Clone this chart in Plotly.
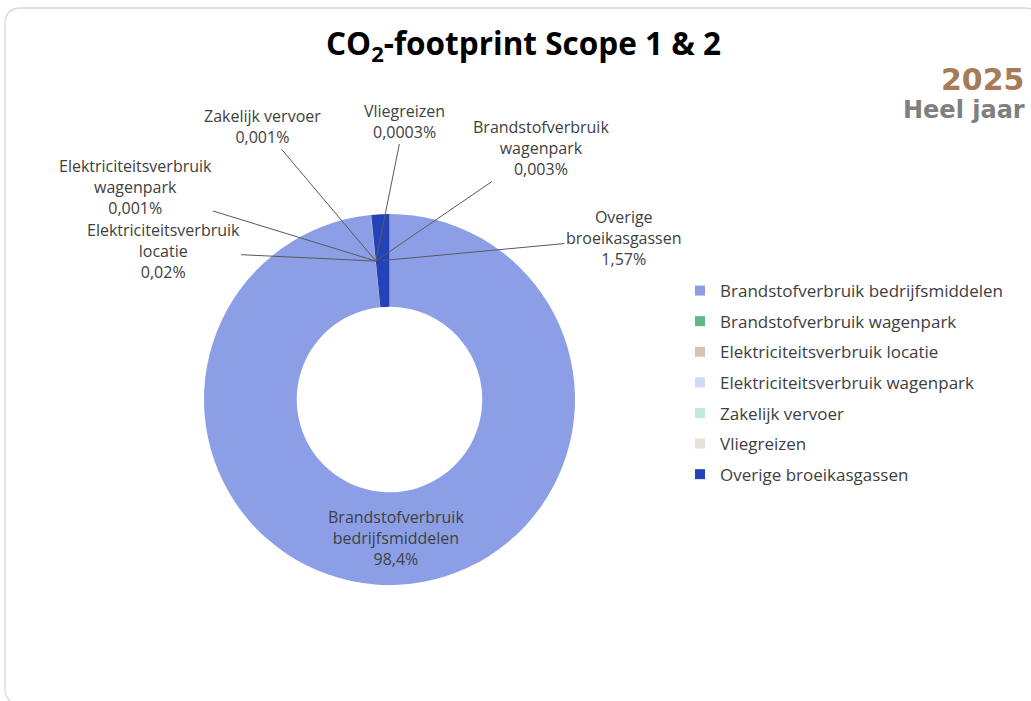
import math
import plotly.graph_objects as go

W, H = 1031, 701

# Data (percentages as shown on the chart)
categories = [
    "Brandstofverbruik bedrijfsmiddelen",
    "Brandstofverbruik wagenpark",
    "Elektriciteitsverbruik locatie",
    "Elektriciteitsverbruik wagenpark",
    "Zakelijk vervoer",
    "Vliegreizen",
    "Overige broeikasgassen",
]
shares = [98.4, 0.003, 0.02, 0.001, 0.001, 0.0003, 1.57]
colors = ["#8C9FE6", "#5DB98A", "#D4C4B4", "#D0D9F5", "#C2E9D6", "#E7E0D9", "#2543B8"]

year_label = "2025"
period_label = "Heel jaar"

# Geometry of the donut in pixels
CX, CY, R = 389.5, 399.5, 185.5
HOLE = 0.5

# label centres (px) for the small slices with leader lines
label_pos = {
    "Brandstofverbruik wagenpark": (541, 148),
    "Elektriciteitsverbruik locatie": (163, 251),
    "Elektriciteitsverbruik wagenpark": (135, 187),
    "Zakelijk vervoer": (262, 126),
    "Vliegreizen": (404, 121),
    "Overige broeikasgassen": (624, 238),
}

FONT = "Open Sans"
TXT = "#404040"
LBL_SIZE = 16


def pct(v):
    return f"{v:g}".replace(".", ",") + "%"


def wrap(name):
    return name.replace(" ", "<br>") if len(name) > 20 else name


labels_txt = [wrap(c) + "<br>" + pct(v) for c, v in zip(categories, shares)]

fig = go.Figure()

fig.add_trace(go.Pie(
    labels=categories, values=shares, sort=False, direction="clockwise", rotation=0,
    hole=HOLE, marker=dict(colors=colors, line=dict(width=0)),
    textinfo="none", hoverinfo="label+percent", showlegend=False,
    domain=dict(x=[(CX - R) / W, (CX + R) / W], y=[1 - (CY + R) / H, 1 - (CY - R) / H]),
))

# legend entries as separate traces so the spacing can be set
for c, col in zip(categories, colors):
    fig.add_trace(go.Scatter(x=[None], y=[None], mode="markers", name=c, legendgroup=c,
                             marker=dict(symbol="square", size=10, color=col)))

# data labels: in the ring for the big slice, with leader lines for the small ones
total = sum(shares)
rm = R * (1 + HOLE) / 2
cum = 0
for c, v, t in zip(categories, shares, labels_txt):
    theta = 2 * math.pi * (cum + v / 2) / total
    cum += v
    px = CX + rm * math.sin(theta)
    py = CY - rm * math.cos(theta)
    if c in label_pos:
        lx, ly = label_pos[c]
        fig.add_annotation(x=px / W, y=1 - py / H, xref="paper", yref="paper",
                           ax=lx - px, ay=ly - py, text=t, showarrow=True, arrowhead=0,
                           arrowwidth=1, arrowcolor="#595959", standoff=0,
                           font=dict(family=FONT, size=LBL_SIZE, color=TXT))
    else:
        fig.add_annotation(x=px / W, y=1 - py / H, xref="paper", yref="paper",
                           xanchor="center", yanchor="middle", showarrow=False, text=t,
                           font=dict(family=FONT, size=LBL_SIZE, color=TXT))

# title and period
fig.add_annotation(x=523 / W, y=1 - 44 / H, xref="paper", yref="paper", showarrow=False,
                   xanchor="center", yanchor="middle",
                   text="CO<sub>2</sub>-footprint Scope 1 & 2",
                   font=dict(family=FONT, size=31.5, color="black", weight="bold"))
fig.add_annotation(x=1027 / W, y=1 - 79 / H, xref="paper", yref="paper", showarrow=False,
                   xanchor="right", yanchor="middle", text=year_label,
                   font=dict(family="DejaVu Sans", size=30, color="#A67C58", weight="bold"))
fig.add_annotation(x=1027 / W, y=1 - 110 / H, xref="paper", yref="paper", showarrow=False,
                   xanchor="right", yanchor="middle", text=period_label,
                   font=dict(family="DejaVu Sans", size=24, color="#7F7F7F", weight="bold"))

# rounded card border
x0, y0, x1, y1, r = 5, 8, 1040, 704, 16
def P(x, y):
    return f"{x / W:.5f},{1 - y / H:.5f}"
path = (f"M {P(x0, y0 + r)} Q {P(x0, y0)} {P(x0 + r, y0)} L {P(x1 - r, y0)} "
        f"Q {P(x1, y0)} {P(x1, y0 + r)} L {P(x1, y1 - r)} Q {P(x1, y1)} {P(x1 - r, y1)} "
        f"L {P(x0 + r, y1)} Q {P(x0, y1)} {P(x0, y1 - r)} Z")
fig.add_shape(type="path", path=path, xref="paper", yref="paper",
              line=dict(color="#D9D9D9", width=1.3))

fig.update_layout(
    width=W, height=H, margin=dict(l=0, r=0, t=0, b=0),
    paper_bgcolor="white", plot_bgcolor="white",
    xaxis=dict(visible=False), yaxis=dict(visible=False),
    legend=dict(x=680 / W, y=1 - 273 / H, xanchor="left", yanchor="top",
                font=dict(family=FONT, size=17, color=TXT), tracegroupgap=5.5,
                itemwidth=30),
)

# page margin off so the figure sits at the window's top-left corner
fig.write_html("out.html", config={"displayModeBar": False},
               post_script="document.body.style.margin='0';")
